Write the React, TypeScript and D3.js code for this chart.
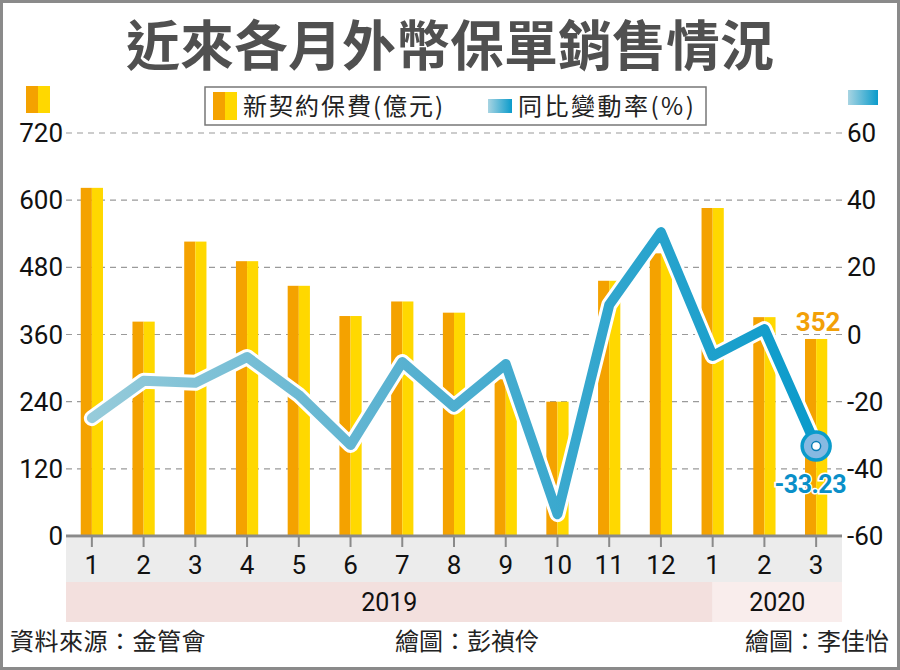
import React from "react";
import * as d3 from "d3";

const months = ["1", "2", "3", "4", "5", "6", "7", "8", "9", "10", "11", "12", "1", "2", "3"];
const premium = [622, 383, 526, 491, 447, 393, 419, 399, 280, 240, 456, 505, 586, 391, 352];
const yoy = [-24.9, -13.8, -14.4, -6.7, -18, -32.9, -8.2, -21.5, -8.8, -53.5, 8.8, 30.5, -6.4, 1.6, -33.23];
const leftTicks = [0, 120, 240, 360, 480, 600, 720];
const rightTicks = [-60, -40, -20, 0, 20, 40, 60];
const years = ["2019", "2020"];
const yearStart = [0, 12];
const yearEnd = [12, 15];

const TITLE = "近來各月外幣保單銷售情況";
const LEG1 = "新契約保費(億元)";
const LEG2 = "同比變動率(%)";
const SRC = "資料來源：金管會";
const CRED1 = "繪圖：彭禎伶";
const CRED2 = "繪圖：李佳怡";

const CJK = "'Noto Sans CJK TC', 'Noto Sans CJK SC', sans-serif";
const NUM = "'Roboto', 'Liberation Sans Narrow', sans-serif";

const ORANGE = "#F4A200";
const YELLOW = "#FFD800";

export default function App() {
  const W = 900, H = 670;
  const left = 66, right = 842, top = 133, bottom = 536;
  const idx = months.map((_, i) => i);
  const x = d3.scaleBand<number>().domain(idx).range([left, right]).paddingInner(0.57).paddingOuter(0.285);
  const cx = (i: number) => (x(i) as number) + x.bandwidth() / 2;
  const yL = d3.scaleLinear().domain([0, 720]).range([bottom, top]);
  const yR = d3.scaleLinear().domain([-60, 60]).range([bottom, top]);
  const line = d3.line<number>().x((_, i) => cx(i)).y((d) => yR(d));
  const path = line(yoy) || "";
  const bw = x.bandwidth();
  const last = yoy.length - 1;
  const boundary = (i: number) => (i >= months.length ? right : i === 0 ? left : cx(i));

  return (
    <div>
      <style>{`body{margin:0}`}</style>
      <svg width={W} height={H} style={{ display: "block" }}>
        <defs>
          <linearGradient id="lg" gradientUnits="userSpaceOnUse" x1={cx(0)} x2={cx(last)} y1={0} y2={0}>
            <stop offset="0" stopColor="#96CBDA" />
            <stop offset="0.45" stopColor="#55B0D0" />
            <stop offset="1" stopColor="#0A9BCB" />
          </linearGradient>
          <linearGradient id="sw" x1="0" x2="1" y1="0" y2="0">
            <stop offset="0" stopColor="#A8D4E2" />
            <stop offset="1" stopColor="#0A9BCB" />
          </linearGradient>
        </defs>
        <rect x={0} y={0} width={W} height={H} fill="#fff" />
        <rect x={1.5} y={1.5} width={W - 3} height={H - 3} fill="none" stroke="#8a8a8a" strokeWidth={3} />

        {/* Title */}
        <text x={450} y={66} textAnchor="middle" fontFamily={CJK} fontWeight={700} fontSize={54} fill="#505050">
          {TITLE}
        </text>

        {/* corner swatches */}
        <rect x={26} y={86} width={12} height={27} fill={ORANGE} />
        <rect x={38} y={86} width={12} height={27} fill={YELLOW} />
        <rect x={848} y={90} width={30} height={15} fill="url(#sw)" />

        {/* legend */}
        <rect x={205} y={87} width={501} height={38} fill="#fff" stroke="#777" strokeWidth={1.5} />
        <rect x={213} y={92} width={12} height={28} fill={ORANGE} />
        <rect x={225} y={92} width={12} height={28} fill={YELLOW} />
        <text x={243} y={115} fontFamily={CJK} fontSize={24} letterSpacing={2} fill="#222">{LEG1}</text>
        <rect x={488} y={99} width={24} height={14} fill="url(#sw)" />
        <text x={518} y={115} fontFamily={CJK} fontSize={24} letterSpacing={2.5} fill="#222">{LEG2}</text>

        {/* gridlines */}
        {leftTicks.slice(1).map((t) => (
          <line key={t} x1={left} x2={right} y1={yL(t)} y2={yL(t)} stroke="#9a9a9a" strokeWidth={1.2} strokeDasharray="6,5" />
        ))}

        {/* axis labels */}
        {leftTicks.map((t) => (
          <text key={"l" + t} x={63} y={yL(t) + 9} textAnchor="end" fontFamily={NUM} fontSize={26} fill="#111">{t}</text>
        ))}
        {rightTicks.map((t) => (
          <text key={"r" + t} x={847} y={yR(t) + 9} textAnchor="start" fontFamily={NUM} fontSize={26} fill="#111">{t}</text>
        ))}

        {/* bars */}
        {premium.map((v, i) => (
          <g key={"b" + i}>
            <rect x={x(i)} y={yL(v)} width={bw / 2} height={yL(0) - yL(v)} fill={ORANGE} />
            <rect x={(x(i) as number) + bw / 2} y={yL(v)} width={bw / 2} height={yL(0) - yL(v)} fill={YELLOW} />
          </g>
        ))}

        {/* line */}
        <path d={path} fill="none" stroke="#fff" strokeWidth={16} strokeLinejoin="round" strokeLinecap="round" />
        <path d={path} fill="none" stroke="url(#lg)" strokeWidth={10} strokeLinejoin="round" strokeLinecap="round" />

        {/* last point marker */}
        <circle cx={cx(last)} cy={yR(yoy[last])} r={14} fill="#86B9E2" stroke="#0A9BCB" strokeWidth={3.5} />
        <circle cx={cx(last)} cy={yR(yoy[last])} r={4.5} fill="#fff" stroke="#0A7FB5" strokeWidth={1.5} />

        {/* value labels */}
        <text x={cx(last) + 2} y={yL(premium[last]) - 8} textAnchor="middle" fontFamily={NUM} fontWeight={700} fontSize={26} fill="#F2A007"
          stroke="#fff" strokeWidth={3} paintOrder="stroke">
          {premium[last]}
        </text>
        <text x={846} y={yR(yoy[last]) + 47} textAnchor="end" fontFamily={NUM} fontWeight={700} fontSize={25} letterSpacing={-0.5} fill="#0A8FC8"
          stroke="#fff" strokeWidth={3} paintOrder="stroke">
          {yoy[last].toFixed(2)}
        </text>

        {/* month band */}
        <rect x={left} y={bottom + 2} width={right - left} height={44} fill="#ECECEC" />
        {/* year bands */}
        {years.map((yname, k) => (
          <g key={yname}>
            <rect x={boundary(yearStart[k])} y={582} width={boundary(yearEnd[k]) - boundary(yearStart[k])} height={40} fill={k === 0 ? "#F3E0DE" : "#F9EDEC"} />
            <text x={(boundary(yearStart[k]) + boundary(yearEnd[k])) / 2} y={611} textAnchor="middle" fontFamily={NUM} fontSize={25} fill="#111">{yname}</text>
          </g>
        ))}

        {/* x axis */}
        <line x1={left} x2={right} y1={bottom} y2={bottom} stroke="#8a8a8a" strokeWidth={3} />
        {months.map((m, i) => (
          <g key={"m" + i}>
            <line x1={cx(i)} x2={cx(i)} y1={bottom} y2={bottom + 11} stroke="#8a8a8a" strokeWidth={2} />
            <text x={cx(i)} y={574} textAnchor="middle" fontFamily={NUM} fontSize={26} fill="#111">{m}</text>
          </g>
        ))}

        {/* footer */}
        <text x={10} y={650} fontFamily={CJK} fontSize={24} letterSpacing={0.5} fill="#222">{SRC}</text>
        <text x={395} y={650} fontFamily={CJK} fontSize={24} fill="#222">{CRED1}</text>
        <text x={889} y={650} textAnchor="end" fontFamily={CJK} fontSize={24} fill="#222">{CRED2}</text>
      </svg>
    </div>
  );
}
